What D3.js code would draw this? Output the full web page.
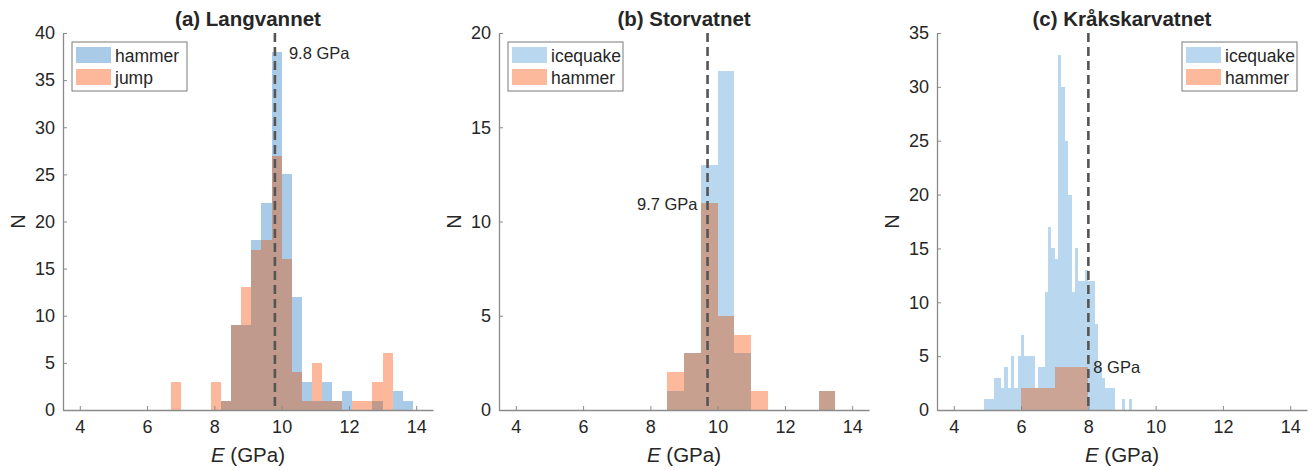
<!DOCTYPE html>
<html>
<head>
<meta charset="utf-8">
<script src="https://cdn.jsdelivr.net/npm/d3@7"></script>
<style>
  body { margin: 0; background: #fff; }
  text { font-family: "Liberation Sans", Arial, sans-serif; fill: #262626; }
</style>
</head>
<body>
<svg id="fig" width="1314" height="470"></svg>
<script>
// ---- (a) Langvannet: bin left edges (GPa), width 0.3 ----
const langBins   = [6.7, 7.0, 7.3, 7.6, 7.9, 8.2, 8.5, 8.8, 9.1, 9.4, 9.7, 10.0, 10.3, 10.6, 10.9, 11.2, 11.5, 11.8, 12.1, 12.4, 12.7, 13.0, 13.3, 13.6];
const langHammer = [0,   0,   0,   0,   0,   1,   9,   9,   18,  22,  38,  25,   12,   3,    1,    3,    1,    2,    0,    0,    1,    0,    2,    1];
const langJump   = [3,   0,   0,   0,   3,   1,   9,   13,  17,  18,  27,  16,   4,    1,    5,    1,    1,    0,    1,    1,    3,    6,    0,    0];
const langWidth  = 0.3;

// ---- (b) Storvatnet: bin left edges (GPa), width 0.5 ----
const storBins     = [8.5, 9.0, 9.5, 10.0, 10.5, 11.0, 13.0];
const storIcequake = [1,   3,   13,  18,   3,    0,    1];
const storHammer   = [2,   3,   11,  5,    4,    1,    1];
const storWidth    = 0.5;

// ---- (c) Kråkskarvatnet: icequake bins 0.1 GPa wide, hammer bins 1 GPa wide ----
const kraIceBins = [4.9, 5.0, 5.1, 5.2, 5.3, 5.4, 5.5, 5.6, 5.7, 5.8, 5.9, 6.0, 6.1, 6.2, 6.3, 6.4, 6.5, 6.6, 6.7, 6.8, 6.9, 7.0,
                    7.1, 7.2, 7.3, 7.4, 7.5, 7.6, 7.7, 7.8, 7.9, 8.0, 8.1, 8.2, 8.3, 8.4, 8.5, 8.6, 8.7, 8.8, 8.9, 9.0, 9.1, 9.2];
const kraIcequake = [1,  1,   1,   3,   3,   2,   4,   2,   5,   2,   5,   7,   5,   5,   5,   2,   4,   4,   11,  17,  15,  14,
                    33,  30,  25,  20,  11,  15,  12,  12,  13,  12,  12,  8,   4,   3,   2,   2,   2,   0,   0,   1,   0,   1];
const kraIceWidth = 0.1;
const kraHamBins  = [6.0, 7.0];
const kraHammer   = [2,   4];
const kraHamWidth = 1.0;

// ---- shared axis settings ----
const xDomain = [3.5, 14.5];
const xTicks  = [4, 6, 8, 10, 12, 14];
const panelTitles = ["(a) Langvannet", "(b) Storvatnet", "(c) Kråkskarvatnet"];
const yMaxes  = [40, 20, 35];
const yTickSets = [[0, 5, 10, 15, 20, 25, 30, 35, 40], [0, 5, 10, 15, 20], [0, 5, 10, 15, 20, 25, 30, 35]];
const medians = [9.8, 9.7, 8];
const medianLabels = ["9.8 GPa", "9.7 GPa", "8 GPa"];
const legendNames = [["hammer", "jump"], ["icequake", "hammer"], ["icequake", "hammer"]];

const svg = d3.select("#fig");
const plotTop = 33, plotBottom = 410, plotW = 370;
const lefts = [63, 499, 937];
const axisColor = "#8a8a8a";

const palettes = [
  { blue: "#a9cbe8", orange: "#fdb89b", both: "#c09b8d" },
  { blue: "#b9d7ee", orange: "#fdb99c", both: "#c7a090" },
  { blue: "#b9d7ee", orange: "#fdb99c", both: "#cca495" }
];

function series(bins, counts, width) {
  return bins.map((b, i) => ({ x0: b, x1: b + width, n: counts[i] }));
}

const panels = [
  { first: series(langBins, langHammer, langWidth), second: series(langBins, langJump, langWidth) },
  { first: series(storBins, storIcequake, storWidth), second: series(storBins, storHammer, storWidth) },
  { first: series(kraIceBins, kraIcequake, kraIceWidth), second: series(kraHamBins, kraHammer, kraHamWidth) }
];

panels.forEach((p, k) => {
  const left = lefts[k];
  const pal = palettes[k];
  const x = d3.scaleLinear().domain(xDomain).range([left, left + plotW]);
  const y = d3.scaleLinear().domain([0, yMaxes[k]]).range([plotBottom, plotTop]);
  const g = svg.append("g");

  // first series (blue)
  g.append("g").selectAll("rect").data(p.first.filter(d => d.n > 0)).join("rect")
    .attr("x", d => x(d.x0)).attr("width", d => x(d.x1) - x(d.x0))
    .attr("y", d => y(d.n)).attr("height", d => y(0) - y(d.n))
    .attr("fill", pal.blue).attr("shape-rendering", "crispEdges");

  // second series (orange)
  g.append("g").selectAll("rect").data(p.second.filter(d => d.n > 0)).join("rect")
    .attr("x", d => x(d.x0)).attr("width", d => x(d.x1) - x(d.x0))
    .attr("y", d => y(d.n)).attr("height", d => y(0) - y(d.n))
    .attr("fill", pal.orange).attr("shape-rendering", "crispEdges");

  // overlap of the two semi-transparent histograms
  const overlaps = [];
  p.second.forEach(s => {
    p.first.forEach(f => {
      const a = Math.max(s.x0, f.x0), b = Math.min(s.x1, f.x1);
      const n = Math.min(s.n, f.n);
      if (b - a > 1e-9 && n > 0) overlaps.push({ x0: a, x1: b, n });
    });
  });
  g.append("g").selectAll("rect").data(overlaps).join("rect")
    .attr("x", d => x(d.x0)).attr("width", d => x(d.x1) - x(d.x0))
    .attr("y", d => y(d.n)).attr("height", d => y(0) - y(d.n))
    .attr("fill", pal.both).attr("shape-rendering", "crispEdges");

  // axes
  const xAxis = g.append("g").attr("transform", `translate(0,${plotBottom})`)
    .call(d3.axisBottom(x).tickValues(xTicks).tickSizeInner(-4).tickSizeOuter(0).tickPadding(8));
  const yAxis = g.append("g").attr("transform", `translate(${left},0)`)
    .call(d3.axisLeft(y).tickValues(yTickSets[k]).tickSizeInner(-4).tickSizeOuter(0).tickPadding(8));
  [xAxis, yAxis].forEach(ax => {
    ax.select(".domain").attr("stroke", axisColor).attr("stroke-width", 1.3);
    ax.selectAll(".tick line").attr("stroke", axisColor);
    ax.selectAll(".tick text").attr("font-size", 18).attr("fill", "#262626")
      .style("font-family", '"Liberation Sans", Arial, sans-serif');
  });
  xAxis.selectAll(".tick text").attr("dy", "0.85em");

  // median line
  g.append("line")
    .attr("x1", x(medians[k])).attr("x2", x(medians[k]))
    .attr("y1", plotTop).attr("y2", plotBottom)
    .attr("stroke", "#555").attr("stroke-width", 2.6).attr("stroke-dasharray", "9,5");

  // median label
  const lab = g.append("text").attr("font-size", 16.5).text(medianLabels[k]);
  if (k === 0) lab.attr("x", x(medians[k]) + 14).attr("y", y(37.2));
  if (k === 1) lab.attr("x", x(medians[k]) - 10).attr("y", y(10.6)).attr("text-anchor", "end");
  if (k === 2) lab.attr("x", x(medians[k]) + 5).attr("y", y(3.4));

  // title
  g.append("text").attr("x", left + plotW / 2).attr("y", 26).attr("text-anchor", "middle")
    .attr("font-size", 20.5).attr("font-weight", "bold").attr("fill", "#111").text(panelTitles[k]);

  // axis labels
  const xl = g.append("text").attr("x", left + plotW / 2).attr("y", 462).attr("text-anchor", "middle")
    .attr("font-size", 20.5);
  xl.append("tspan").attr("font-style", "italic").text("E");
  xl.append("tspan").text(" (GPa)");
  g.append("text").attr("transform", `translate(${left - 38},${(plotTop + plotBottom) / 2}) rotate(-90)`)
    .attr("text-anchor", "middle").attr("font-size", 20).text("N");

  // legend
  const lw = 115, lh = 49;
  const lx = k === 2 ? left + plotW - 10 - lw : left + 9;
  const ly = 42;
  const leg = g.append("g").attr("transform", `translate(${lx},${ly})`);
  leg.append("rect").attr("width", lw).attr("height", lh).attr("fill", "#fff")
    .attr("stroke", "#7a7a7a").attr("stroke-width", 1);
  [pal.blue, pal.orange].forEach((c, i) => {
    leg.append("rect").attr("x", 4).attr("y", 5 + i * 22).attr("width", 35).attr("height", 16).attr("fill", c);
    leg.append("text").attr("x", 43).attr("y", 19.5 + i * 22).attr("font-size", 17.5).text(legendNames[k][i]);
  });
});
</script>
</body>
</html>
